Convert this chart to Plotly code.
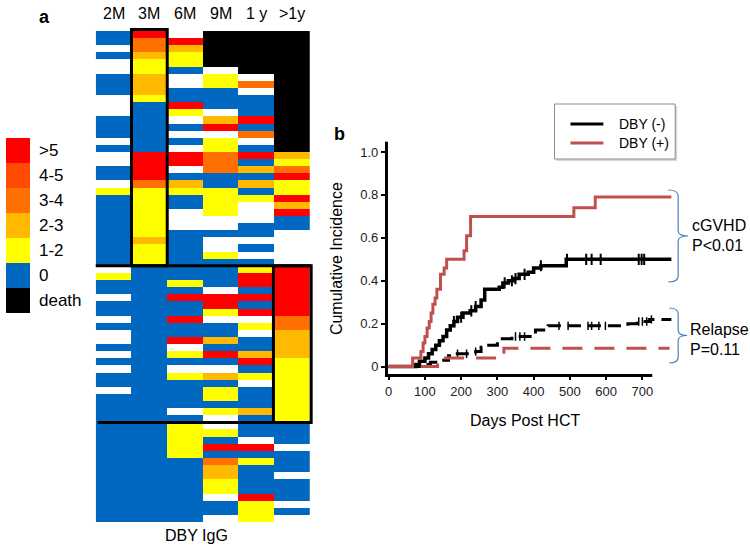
import plotly.graph_objects as go

W, H = 750, 549
FONT = "Liberation Sans, Arial, Helvetica, sans-serif"

# ---------------- Panel a: DBY IgG heat map ----------------
time_points = ["2M", "3M", "6M", "9M", "1 y", ">1y"]
# codes: W = no sample, B = 0, Y = 1-2, A = 2-3, O = 3-4, Q = 4-5, R = >5, K = death
# each column = top group (33 pts) + middle group (22 pts) + bottom group (14 pts)
col_2M = ("BBWBWWBBBWWWBBBWBWWBBWYBBBBBBBBBB"
          "WYBBWBBWBWWBWBWBBWBBBB"
          "BBBBBBBBBBBBBB")
col_3M = ("ROOAYYAAAYBBBBBBBRRRROYYYYYYYAYYY"
          "BBBBBBBBBBBBBBBBBBBBBB"
          "BBBBBBBBBBBBBB")
col_6M = ("WRAYYBWWBBRYWBWBWRRWBAYBBWWWBBBBB"
          "BBYBRBBRBBRWYBWYBBBBWB"
          "YYYYYBBBBBBBBB")
col_9M = ("KKKKKWYYBBBWARWYYOOOBBYYYYWWBWWYB"
          "BBBWRRYWBBABRBWABYYBYW"
          "WYBRBOAAYYWBBW")
col_1y = ("KKKKKKWOWBBBRBOWBRBABAB" "YWWWBBWBWB"
          "YRRBRBRWYWBBARBYWBBBAB"
          "BBWRBYBBBBRYYY")
col_gt1y = ("KKKKKKKKKKKKKKKKKAYORYYRARBBWWWWW"
            "RRRRRRROOAAAAYYYYYYYYY"
            "BBBWBBBWBBBWBW")
group_sizes = [33, 22, 14]

level_code = {"W": None, "B": 0, "Y": 1, "A": 2, "O": 3, "Q": 4, "R": 5, "K": 6}
legend_labels = [">5", "4-5", "3-4", "2-3", "1-2", "0", "death"]
legend_codes = [5, 4, 3, 2, 1, 0, 6]
level_colors = ["#0068C0", "#FFFF00", "#FFBA00", "#FF7000", "#FF4A00", "#FF0000", "#000000"]

# ---------------- Panel b: cumulative incidence ----------------
neg_cgvhd_days = [0, 75, 85, 100, 110, 120, 130, 140, 150, 160, 170, 180, 190, 205, 225,
                  240, 255, 265, 305, 315, 330, 345, 360, 385, 400, 420, 490, 780]
neg_cgvhd_ci = [0, 0.01, 0.025, 0.04, 0.06, 0.08, 0.10, 0.12, 0.14, 0.17, 0.19, 0.21, 0.23,
                0.25, 0.26, 0.28, 0.31, 0.36, 0.37, 0.39, 0.40, 0.41, 0.43, 0.44, 0.46,
                0.47, 0.50, 0.50]
neg_cgvhd_censor = [180, 200, 228, 240, 320, 340, 350, 375, 420, 492, 545, 560, 585, 690, 698, 705]

pos_cgvhd_days = [0, 66, 89, 95, 100, 106, 112, 117, 122, 128, 133, 143, 153, 160, 208,
                  215, 226, 511, 570, 780]
pos_cgvhd_ci = [0, 0.04, 0.07, 0.11, 0.14, 0.18, 0.21, 0.25, 0.29, 0.32, 0.36, 0.43, 0.46,
                0.50, 0.54, 0.61, 0.70, 0.74, 0.79, 0.79]

neg_rel_days = [0, 100, 115, 130, 165, 185, 240, 255, 270, 300, 340, 395, 405, 440, 660,
                685, 720, 780]
neg_rel_ci = [0, 0.01, 0.02, 0.03, 0.05, 0.06, 0.07, 0.09, 0.10, 0.13, 0.14, 0.15, 0.17,
              0.19, 0.20, 0.21, 0.22, 0.22]
neg_rel_censor = [190, 215, 240, 350, 362, 375, 470, 495, 550, 560, 580, 598, 690, 700, 712, 725]

pos_rel_days = [0, 135, 318, 775]
pos_rel_ci = [0, 0.04, 0.085, 0.085]

x_ticks = [0, 100, 200, 300, 400, 500, 600, 700]
y_ticks = [0, 0.2, 0.4, 0.6, 0.8, 1.0]
y_ticktext = ["0", "0.2", "0.4", "0.6", "0.8", "1.0"]

RED = "#C0504D"
BRACKET = "#4F81BD"


def step_value(days, vals, d):
    v = vals[0]
    for dd, vv in zip(days, vals):
        if dd <= d:
            v = vv
    return v


def px_x(p):
    return p / W


def px_y(p):
    return 1 - p / H


fig = go.Figure()

# heat map
cols = [col_2M, col_3M, col_6M, col_9M, col_1y, col_gt1y]
n_rows = len(col_2M)
z = [[level_code[c[r]] for c in cols] for r in range(n_rows)]
cs = []
for i, c in enumerate(level_colors):
    cs.append([i / 7, c])
    cs.append([(i + 1) / 7, c])
fig.add_trace(go.Heatmap(z=z, x=list(range(6)), y=list(range(n_rows)), colorscale=cs,
                         zmin=-0.5, zmax=6.5, showscale=False, xaxis="x2", yaxis="y2",
                         hoverongaps=False))
# colour key
fig.add_trace(go.Heatmap(z=[[c] for c in legend_codes], x=[0], y=list(range(len(legend_codes))),
                         colorscale=cs, zmin=-0.5, zmax=6.5, showscale=False,
                         xaxis="x3", yaxis="y3"))

# curves
fig.add_trace(go.Scatter(x=neg_rel_days, y=neg_rel_ci, mode="lines", line_shape="hv",
                         line=dict(color="black", width=3, dash="13px,7px"), showlegend=False))
fig.add_trace(go.Scatter(x=neg_rel_censor,
                         y=[step_value(neg_rel_days, neg_rel_ci, d) for d in neg_rel_censor],
                         mode="markers", marker=dict(symbol="line-ns", size=6,
                                                     line=dict(color="black", width=1.5)),
                         showlegend=False))
fig.add_trace(go.Scatter(x=neg_cgvhd_days, y=neg_cgvhd_ci, mode="lines", line_shape="hv",
                         line=dict(color="black", width=3.5), name="DBY (-)", showlegend=False))
fig.add_trace(go.Scatter(x=neg_cgvhd_censor,
                         y=[step_value(neg_cgvhd_days, neg_cgvhd_ci, d) for d in neg_cgvhd_censor],
                         mode="markers", marker=dict(symbol="line-ns", size=8,
                                                     line=dict(color="black", width=2)),
                         showlegend=False))
fig.add_trace(go.Scatter(x=pos_rel_days, y=pos_rel_ci, mode="lines", line_shape="hv",
                         line=dict(color=RED, width=3, dash="20px,12px"), showlegend=False))
fig.add_trace(go.Scatter(x=pos_cgvhd_days, y=pos_cgvhd_ci, mode="lines", line_shape="hv",
                         line=dict(color=RED, width=3), name="DBY (+)", showlegend=False))

# axis geometry for panel b (pixel frame)
X0_PX, DAY_PX = 387.7, 0.3634
Y0_PX, UNIT_PX = 366.6, 214.6
xd = (386, 690)
yd = (141.7, 376)
xr = [(xd[0] - X0_PX) / DAY_PX, (xd[1] - X0_PX) / DAY_PX]
yr = [(Y0_PX - yd[1]) / UNIT_PX, (Y0_PX - yd[0]) / UNIT_PX]

# heat map geometry
HX0, HX1, HY0, HY1 = 94, 309, 31, 522


def hx(e):
    return HX0 + (e + 0.5) * (HX1 - HX0) / 6


def hy(e):
    return HY0 + (e + 0.5) * (HY1 - HY0) / n_rows


shapes = []
line_k = dict(color="black", width=3)
g1 = group_sizes[0] - 0.5
g2 = group_sizes[0] + group_sizes[1] - 0.5
shapes.append(dict(type="rect", xref="paper", yref="paper", x0=px_x(hx(0.5)), x1=px_x(hx(1.5)),
                   y0=px_y(hy(-0.5) - 1.5), y1=px_y(hy(g1)), line=line_k))
shapes.append(dict(type="line", xref="paper", yref="paper", x0=px_x(hx(-0.5)), x1=px_x(hx(5.5) + 1),
                   y0=px_y(hy(g1)), y1=px_y(hy(g1)), line=line_k))
shapes.append(dict(type="line", xref="paper", yref="paper", x0=px_x(hx(-0.5) + 2), x1=px_x(hx(4.5)),
                   y0=px_y(hy(g2)), y1=px_y(hy(g2)), line=line_k))
shapes.append(dict(type="rect", xref="paper", yref="paper", x0=px_x(hx(4.5) - 1), x1=px_x(hx(5.5) + 1),
                   y0=px_y(hy(g1)), y1=px_y(hy(g2)), line=line_k))

# panel b axis lines
shapes.append(dict(type="line", xref="paper", yref="paper", x0=px_x(385.5), x1=px_x(385.5),
                   y0=px_y(141.7), y1=px_y(377), line=line_k))
shapes.append(dict(type="line", xref="paper", yref="paper", x0=px_x(384), x1=px_x(652),
                   y0=px_y(375.5), y1=px_y(375.5), line=line_k))

# legend box for panel b
shapes.append(dict(type="rect", xref="paper", yref="paper", x0=px_x(556), x1=px_x(677),
                   y0=px_y(161), y1=px_y(106), line=dict(width=0), fillcolor="#D8D8D8"))
shapes.append(dict(type="rect", xref="paper", yref="paper", x0=px_x(554), x1=px_x(675),
                   y0=px_y(159), y1=px_y(104), line=dict(color="#8C8C8C", width=1),
                   fillcolor="white"))
shapes.append(dict(type="line", xref="paper", yref="paper", x0=px_x(570), x1=px_x(603),
                   y0=px_y(124), y1=px_y(124), line=dict(color="black", width=3)))
shapes.append(dict(type="line", xref="paper", yref="paper", x0=px_x(570), x1=px_x(603),
                   y0=px_y(143), y1=px_y(143), line=dict(color=RED, width=3)))


def brace(xl, xv, xt, yt, yb):
    ym = (yt + yb) / 2
    pts = [
        f"M {px_x(xl)},{px_y(yt)}",
        f"Q {px_x(xv)},{px_y(yt)} {px_x(xv)},{px_y(yt + 6)}",
        f"L {px_x(xv)},{px_y(ym - 5)}",
        f"Q {px_x(xv)},{px_y(ym)} {px_x(xt)},{px_y(ym)}",
        f"Q {px_x(xv)},{px_y(ym)} {px_x(xv)},{px_y(ym + 5)}",
        f"L {px_x(xv)},{px_y(yb - 6)}",
        f"Q {px_x(xv)},{px_y(yb)} {px_x(xl)},{px_y(yb)}",
    ]
    return dict(type="path", xref="paper", yref="paper", path=" ".join(pts),
                line=dict(color=BRACKET, width=1.2))


shapes.append(brace(668, 678, 688, 190, 282))
shapes.append(brace(669, 678, 687, 308, 363))

ann = []


def text(x, y, s, size=16, xanchor="center", bold=False, angle=0):
    ann.append(dict(x=px_x(x), y=px_y(y), xref="paper", yref="paper",
                    text=f"<b>{s}</b>" if bold else s, showarrow=False,
                    xanchor=xanchor, yanchor="middle", textangle=angle,
                    font=dict(family=FONT, size=size, color="black")))


for i, lab in enumerate(time_points):
    text(hx(i), 14, lab, 16)
text(195, 535, "DBY IgG", 16)
text(43, 17, "a", 18, bold=True)
text(338, 134, "b", 18, bold=True)
for i, lab in enumerate(legend_labels):
    text(35, 138 + 12.5 + 25 * i, lab, 17, xanchor="left")
text(335, 259, "Cumulative Incidence", 16, angle=-90)
text(524, 420, "Days Post HCT", 16)
text(617, 124, "DBY (-)", 14, xanchor="left")
text(617, 143, "DBY (+)", 14, xanchor="left")
text(690, 226, "cGVHD", 16, xanchor="left")
text(690, 245, "P<0.01", 16, xanchor="left")
text(688, 329, "Relapse", 16, xanchor="left")
text(688, 349, "P=0.11", 16, xanchor="left")

fig.update_layout(
    width=W, height=549, margin=dict(l=0, r=0, t=0, b=0),
    paper_bgcolor="white", plot_bgcolor="white", showlegend=False,
    font=dict(family=FONT),
    xaxis=dict(domain=[px_x(xd[0]), px_x(xd[1])], range=xr, tickvals=x_ticks,
               ticks="outside", ticklen=3, tickwidth=1.5, tickcolor="black",
               showline=False, showgrid=False, zeroline=False, anchor="y",
               tickfont=dict(size=13, color="#222", family=FONT)),
    yaxis=dict(domain=[px_y(yd[1]), px_y(yd[0])], range=yr, tickvals=y_ticks,
               ticktext=y_ticktext, ticks="outside", ticklen=5, tickwidth=2,
               tickcolor="black", showline=False, showgrid=False, zeroline=False,
               anchor="x", tickfont=dict(size=13, color="#222", family=FONT)),
    xaxis2=dict(domain=[px_x(HX0), px_x(HX1)], range=[-0.5, 5.5], visible=False, anchor="y2"),
    yaxis2=dict(domain=[px_y(HY1), px_y(HY0)], range=[n_rows - 0.5, -0.5], visible=False,
                anchor="x2"),
    xaxis3=dict(domain=[px_x(4), px_x(28)], range=[-0.5, 0.5], visible=False, anchor="y3"),
    yaxis3=dict(domain=[px_y(313), px_y(138)], range=[len(legend_codes) - 0.5, -0.5],
                visible=False, anchor="x3"),
    shapes=shapes, annotations=ann,
)

fig.write_html("out.html", config={"displayModeBar": False},
               post_script="document.body.style.margin='0px';document.body.style.padding='0px';"
                           "document.body.style.overflow='hidden';")
